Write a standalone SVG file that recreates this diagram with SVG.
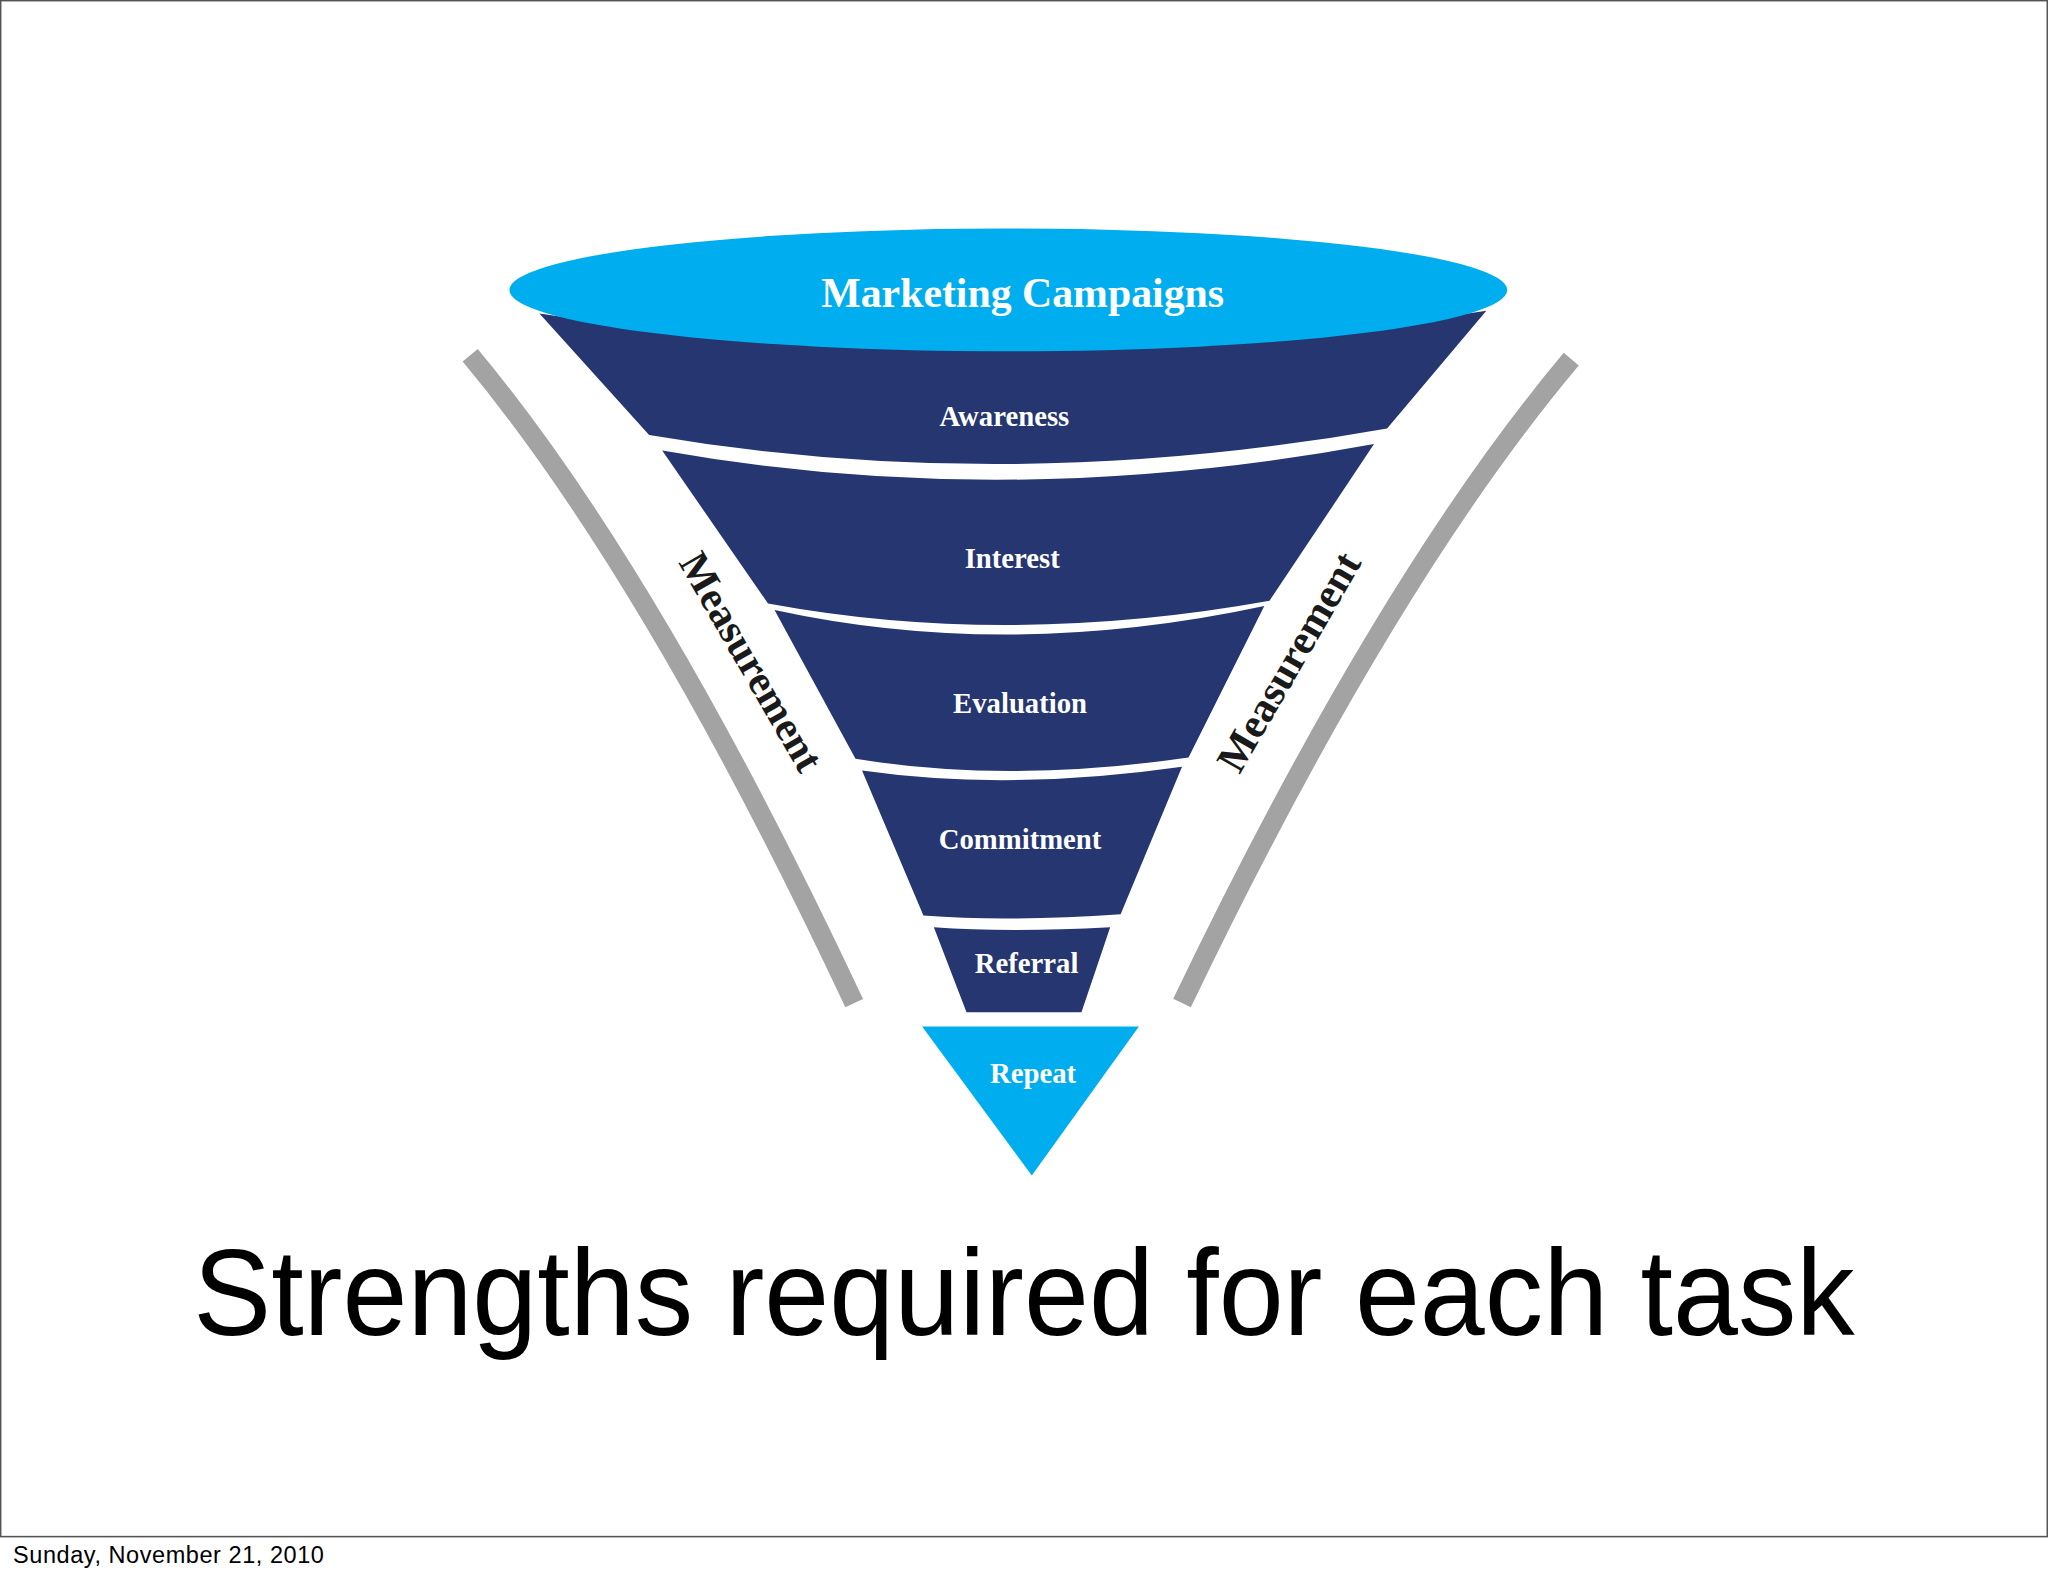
<svg xmlns="http://www.w3.org/2000/svg" width="2048" height="1576" viewBox="0 0 2048 1576">
<style>
.band{fill:#263670}
.light{fill:#00AEEF}
.lbl{font-family:"Liberation Serif",serif;font-weight:bold;fill:#fff;text-anchor:middle}
.meas{font-family:"Liberation Serif",serif;font-weight:bold;fill:#1a1a1a;font-size:32px;text-anchor:middle}
.arc{fill:none;stroke:#A3A3A3;stroke-width:15}
</style>
<rect x="0" y="0" width="2048" height="1576" fill="#fff"/>
<g transform="scale(1.3061)">
<rect x="0.5" y="0.5" width="1567" height="1176" fill="none" stroke="#555" stroke-width="1.2"/>
<g id="arcs">
<path class="arc" d="M360,272 Q500,440 654,768"/>
<path class="arc" d="M1203,275 Q1060,445 905,768"/>
</g>
<g id="awareness"><path class="band" d="M413,240 Q772,296 1138,238 L1062,328 Q772,380 497,333 Z"/><text class="lbl" x="769" y="326" font-size="22">Awareness</text></g>
<g id="interest"><path class="band" d="M507,345 Q772,392 1052,340 L972,460 Q772,496 588,462 Z"/><text class="lbl" x="775" y="435" font-size="22">Interest</text></g>
<g id="evaluation"><path class="band" d="M593,467 Q772,506 968,464 L910,580 Q772,600 655,581 Z"/><text class="lbl" x="781" y="546" font-size="22">Evaluation</text></g>
<g id="commitment"><path class="band" d="M660,590 Q772,606 905,587 L858,700 Q772,706 707,701 Z"/><text class="lbl" x="781" y="650" font-size="22">Commitment</text></g>
<g id="referral"><path class="band" d="M715,710 Q772,714 850,710 L828,775 L740,775 Z"/><text class="lbl" x="786" y="745" font-size="22">Referral</text></g>
<g id="campaigns"><ellipse class="light" cx="772" cy="222" rx="382" ry="47"/><text class="lbl" x="783" y="235" font-size="32">Marketing Campaigns</text></g>
<g id="repeat"><path class="light" d="M706,786 L872,786 L790,900 Z"/><text class="lbl" x="791" y="829" font-size="22">Repeat</text></g>
<g id="measure-left"><text class="meas" transform="translate(566,512) rotate(60)">Measurement</text></g>
<g id="measure-right"><text class="meas" transform="translate(996,512) rotate(-60)">Measurement</text></g>
<text x="784" y="1022" font-family="'Liberation Sans',sans-serif" font-size="94" text-anchor="middle" textLength="1272" lengthAdjust="spacingAndGlyphs" fill="#000">Strengths required for each task</text>
<text x="10" y="1197" font-family="'Liberation Sans',sans-serif" font-size="18" textLength="238" fill="#000">Sunday, November 21, 2010</text>
</g>
</svg>
